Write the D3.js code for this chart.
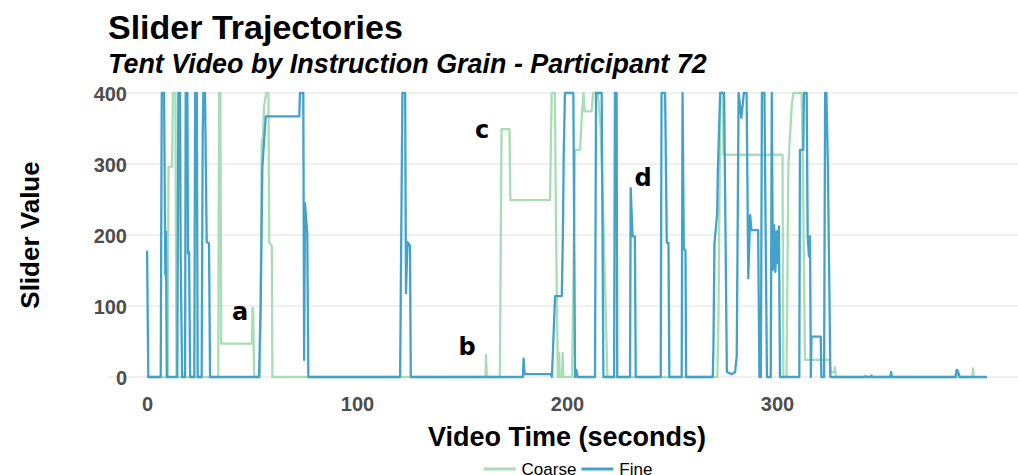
<!DOCTYPE html>
<html>
<head>
<meta charset="utf-8">
<script src="https://cdn.jsdelivr.net/npm/d3@7"></script>
<style>
  html, body { margin: 0; padding: 0; background: #ffffff; }
  svg { display: block; }
</style>
</head>
<body>
<svg id="chart" width="1018" height="475"></svg>
<script>
// Slider position over video time, one series per instruction grain
const coarseTime = [0, 9.9, 10.2, 11.9, 12.3, 13.5, 14.0, 33.9, 34.3, 34.9, 35.3, 50.0, 50.2, 50.5, 51.0,
  53.8, 54.6, 55.2, 55.7, 56.7, 57.8, 58.2, 59.4, 59.7, 161.2, 161.4, 161.8, 168.0, 168.8, 172.6, 173.0,
  191.9, 192.3, 192.7, 194.2, 194.8, 195.6, 196.0, 196.2, 196.5, 197.6, 197.9, 198.2, 202.4, 203.8, 206.2,
  207.0, 207.8, 208.4, 211.7, 212.4, 214.7, 216.0, 217.5, 219.2, 271.6, 272.1, 273.0, 274.2, 274.5, 302.6,
  303.0, 304.5, 305.4, 307.0, 307.8, 311.7, 312.2, 313.3, 325.0, 325.5, 327.3, 327.6, 328.0, 386.0, 386.2,
  386.5, 393.0, 393.3, 393.7, 394.0];
const coarseValue = [0, 0, 296, 296, 400, 400, 0, 0, 400, 400, 47, 47, 97, 97, 0,
  0, 330, 340, 380, 400, 400, 189, 185, 0, 0, 31, 0, 0, 349, 349, 249,
  249, 330, 400, 400, 198, 0, 0, 34, 0, 0, 34, 0, 0, 320, 320,
  365, 400, 374, 374, 400, 400, 350, 200, 0, 0, 83, 400, 400, 313, 313,
  0, 0, 299, 383, 400, 400, 322, 24, 24, 7, 7, 14, 0, 0, 6,
  0, 0, 12, 0, 0];

const fineTime = [0, 0.6, 6.5, 7.0, 8.1, 8.7, 9.0, 9.4, 14.4, 14.9, 15.7, 16.0, 16.7, 18.1, 18.4, 19.2,
  19.5, 20.0, 20.5, 22.5, 22.9, 23.7, 24.1, 26.0, 26.5, 26.8, 27.6, 28.4, 29.5, 30.0, 53.3, 54.1, 54.9,
  56.5, 72.5, 72.8, 74.4, 74.8, 75.2, 76.3, 76.8, 120.5, 121.6, 122.9, 123.3, 124.0, 125.2, 125.6,
  179.0, 179.3, 179.8, 192.2, 192.8, 194.3, 197.5, 198.0, 198.4, 199.0, 203.0, 203.8, 204.4, 205.0,
  213.3, 213.8, 216.5, 217.3, 222.4, 222.8, 223.6, 223.9, 230.0, 230.3, 231.2, 232.3, 232.7,
  244.6, 245.0, 246.7, 247.5, 248.3, 248.7, 254.6, 255.0, 255.6, 256.4, 256.7,
  269.4, 269.7, 270.2, 271.5, 271.8, 272.9, 274.8, 276.1, 278.5, 280.0, 280.8, 281.7, 283.0, 284.2,
  285.5, 286.3, 287.2, 287.8, 291.0, 291.6, 292.3, 292.8, 294.0, 294.6, 295.2, 297.0, 297.5, 298.0,
  298.6, 299.2, 299.8, 300.4, 300.9, 301.4, 310.6, 310.9, 312.5, 312.8, 314.1, 314.6, 315.2, 315.7,
  316.1, 316.4, 320.8, 321.1, 322.4, 322.9, 323.5, 324.2, 324.8, 325.4, 341.5, 342.0, 342.5, 344.5,
  345.0, 345.5, 354.0, 354.3, 354.7, 385.0, 385.5, 386.0, 387.0, 400.0];
const fineValue = [178, 0, 0, 400, 400, 144, 205, 0, 0, 400, 400, 172, 0, 0, 400, 400,
  174, 176, 0, 0, 400, 400, 0, 0, 343, 400, 400, 190, 188, 0, 0, 99, 296,
  367, 367, 400, 400, 24, 245, 202, 0, 0, 400, 400, 118, 190, 185, 0,
  0, 26, 4, 4, 0, 114, 114, 198, 310, 400, 400, 0, 10, 0,
  0, 400, 400, 0, 0, 400, 400, 0, 0, 266, 198, 198, 0,
  0, 400, 400, 189, 189, 0, 0, 400, 181, 178, 0,
  0, 40, 188, 231, 289, 400, 400, 7, 4, 7, 29, 400, 365, 400,
  400, 139, 228, 207, 207, 0, 0, 400, 400, 193, 0, 0, 400, 151,
  214, 148, 205, 160, 212, 0, 0, 320, 320, 400, 400, 198, 170, 198,
  0, 57, 57, 0, 0, 400, 400, 300, 150, 0, 0, 1, 0, 0,
  2, 0, 0, 7, 0, 0, 10, 9, 0, 0];

const seriesNames = ["Coarse", "Fine"];
const seriesColors = ["#a8ddb5", "#43a2ca"];
const xTicks = [0, 100, 200, 300];
const yTicks = [0, 100, 200, 300, 400];

// Letter callouts placed on the trajectories
const noteLabels = ["a", "b", "c", "d"];
const noteTime = [44.3, 152.4, 159.5, 236.2];
const noteValue = [91, 42, 348, 280];

const svg = d3.select("#chart");
const sans = "'Liberation Sans', Arial, Helvetica, sans-serif";

const x = d3.scaleLinear().domain([-18.6, 418.6]).range([108, 1026.1]);
const y = d3.scaleLinear().domain([-20, 420]).range([391.2, 78.8]);

// horizontal grid
svg.append("g")
  .selectAll("line")
  .data(yTicks)
  .join("line")
  .attr("x1", x.range()[0]).attr("x2", x.range()[1])
  .attr("y1", d => y(d)).attr("y2", d => y(d))
  .attr("stroke", "#ebebeb").attr("stroke-width", 1.3);

const series = [
  coarseTime.map((t, i) => [t, coarseValue[i]]),
  fineTime.map((t, i) => [t, fineValue[i]])
];

const line = d3.line().x(d => x(d[0])).y(d => y(d[1]));

svg.append("g")
  .selectAll("path")
  .data(series)
  .join("path")
  .attr("d", line)
  .attr("fill", "none")
  .attr("stroke", (d, i) => seriesColors[i])
  .attr("stroke-width", 2.3)
  .attr("stroke-linejoin", "round");

// callout letters
svg.append("g")
  .selectAll("text")
  .data(noteLabels)
  .join("text")
  .attr("x", (d, i) => x(noteTime[i]))
  .attr("y", (d, i) => y(noteValue[i]))
  .attr("text-anchor", "middle")
  .attr("dominant-baseline", "central")
  .attr("font-family", "'DejaVu Sans', sans-serif")
  .attr("font-weight", "bold")
  .attr("font-size", 24)
  .attr("fill", "#000")
  .text(d => d);

// axes
const xAxis = svg.append("g")
  .attr("transform", `translate(0,${y.range()[0]})`)
  .call(d3.axisBottom(x).tickValues(xTicks).tickSize(0).tickPadding(6));
const yAxis = svg.append("g")
  .attr("transform", `translate(131,0)`)
  .call(d3.axisLeft(y).tickValues(yTicks).tickSize(0).tickPadding(4));
[xAxis, yAxis].forEach(g => {
  g.select(".domain").remove();
  g.selectAll("text")
    .attr("font-family", sans)
    .attr("font-weight", "bold")
    .attr("font-size", 20)
    .attr("fill", "#4d4d4d");
});
yAxis.selectAll("text").attr("dy", "0.36em");

// axis titles
svg.append("text")
  .attr("x", (x.range()[0] + x.range()[1]) / 2)
  .attr("y", 446)
  .attr("text-anchor", "middle")
  .attr("font-family", sans)
  .attr("font-weight", "bold")
  .attr("font-size", 27)
  .attr("fill", "#000")
  .text("Video Time (seconds)");

svg.append("text")
  .attr("transform", `translate(39,${(y.range()[0] + y.range()[1]) / 2}) rotate(-90)`)
  .attr("text-anchor", "middle")
  .attr("font-family", sans)
  .attr("font-weight", "bold")
  .attr("font-size", 26)
  .attr("fill", "#000")
  .text("Slider Value");

// titles
svg.append("text")
  .attr("x", 108).attr("y", 39)
  .attr("font-family", sans)
  .attr("font-weight", "bold")
  .attr("font-size", 34)
  .attr("fill", "#000")
  .text("Slider Trajectories");

svg.append("text")
  .attr("x", 108).attr("y", 73)
  .attr("font-family", sans)
  .attr("font-weight", "bold")
  .attr("font-style", "italic")
  .attr("font-size", 26.9)
  .attr("fill", "#000")
  .text("Tent Video by Instruction Grain - Participant 72");

// legend, centred under the panel
const legend = svg.append("g");
let cursor = 0;
seriesNames.forEach((name, i) => {
  const g = legend.append("g");
  g.append("line")
    .attr("x1", 0).attr("x2", 32)
    .attr("y1", 0).attr("y2", 0)
    .attr("stroke", seriesColors[i]).attr("stroke-width", 3);
  const t = g.append("text")
    .attr("x", 38).attr("y", 0)
    .attr("dy", "0.36em")
    .attr("font-family", sans)
    .attr("font-size", 17)
    .attr("fill", "#000")
    .text(name);
  const w = 38 + t.node().getComputedTextLength();
  g.attr("transform", `translate(${cursor},0)`);
  cursor += w + 5;
});
const legendWidth = cursor - 5;
legend.attr("transform", `translate(${568 - legendWidth / 2},469)`);
</script>
</body>
</html>
